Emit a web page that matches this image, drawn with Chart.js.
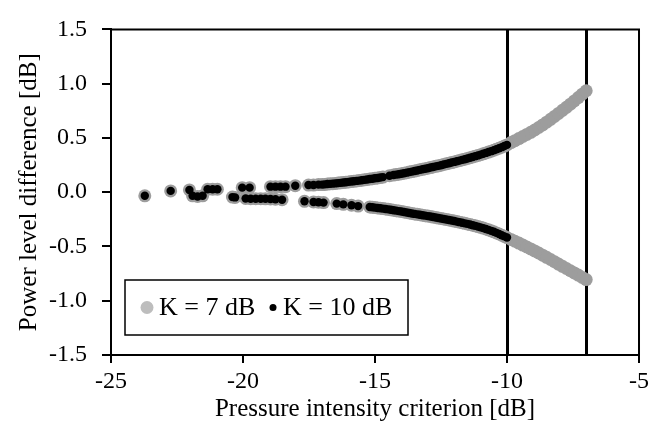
<!DOCTYPE html>
<html>
<head>
<meta charset="utf-8">
<script src="https://cdn.jsdelivr.net/npm/chart.js@4.4.1/dist/chart.umd.min.js"></script>
<style>
  html, body { margin: 0; padding: 0; background: #fff; }
  #wrap { width: 653px; height: 433px; }
</style>
</head>
<body>
<div id="wrap"><canvas id="c" width="653" height="433"></canvas></div>
<script>
// Axis ticks
const xTicks = [-25, -20, -15, -10, -5];
const yTicks = [-1.5, -1.0, -0.5, 0.0, 0.5, 1.0, 1.5];
// Vertical reference lines (criterion limits, dB)
const limitLines = [-10, -7];

// Upper branch, points common to both K values
const upperX = [-22.74, -22.03, -21.34, -21.15, -20.97, -20.03, -19.75, -18.96, -18.77, -18.58,
  -18.39, -18.02, -17.52, -17.33, -17.14, -17.0, -16.9, -16.8, -16.7, -16.6, -16.5, -16.4,
  -16.3, -16.2, -16.1, -16.0, -15.9, -15.8, -15.7, -15.6, -15.5, -15.4, -15.3, -15.2, -15.1,
  -15.0, -14.9, -14.8, -14.7, -14.45, -14.3, -14.2, -14.1, -14.0, -13.9, -13.8, -13.7, -13.6,
  -13.5, -13.4, -13.3, -13.2, -13.1, -13.0, -12.9, -12.8, -12.7, -12.6, -12.5, -12.4, -12.3,
  -12.2, -12.1, -12.0, -11.9, -11.8, -11.7, -11.6, -11.5, -11.4, -11.3, -11.2, -11.1, -11.0,
  -10.9, -10.8, -10.7, -10.6, -10.5, -10.4, -10.3, -10.2, -10.1, -10.0];
const upperY = [0.012, 0.021, 0.027, 0.027, 0.027, 0.042, 0.042, 0.051, 0.051, 0.051,
  0.051, 0.060, 0.066, 0.066, 0.070, 0.070, 0.072, 0.075, 0.077, 0.079, 0.081, 0.084,
  0.086, 0.089, 0.092, 0.095, 0.098, 0.101, 0.104, 0.107, 0.110, 0.114, 0.117, 0.121, 0.124,
  0.128, 0.131, 0.135, 0.139, 0.152, 0.158, 0.162, 0.166, 0.170, 0.175, 0.180, 0.185, 0.190,
  0.195, 0.200, 0.206, 0.211, 0.216, 0.221, 0.227, 0.232, 0.238, 0.243, 0.249, 0.255, 0.261,
  0.267, 0.273, 0.279, 0.285, 0.291, 0.298, 0.304, 0.311, 0.318, 0.325, 0.332, 0.339, 0.346,
  0.354, 0.362, 0.370, 0.378, 0.387, 0.396, 0.405, 0.415, 0.425, 0.436];

// Lower branch, points common to both K values
const lowerX = [-23.72, -21.91, -21.72, -21.53, -20.40, -20.30, -19.90, -19.71, -19.52, -19.33,
  -19.15, -18.96, -18.77, -18.52, -17.67, -17.33, -17.14, -16.95, -16.45, -16.20, -15.89,
  -15.64, -15.2, -15.1, -15.0, -14.9, -14.8, -14.7, -14.6, -14.5, -14.4, -14.3, -14.2, -14.1,
  -14.0, -13.9, -13.8, -13.7, -13.6, -13.5, -13.4, -13.3, -13.2, -13.1, -13.0, -12.9, -12.8,
  -12.7, -12.6, -12.5, -12.4, -12.3, -12.2, -12.1, -12.0, -11.9, -11.8, -11.7, -11.6, -11.5,
  -11.4, -11.3, -11.2, -11.1, -11.0, -10.9, -10.8, -10.7, -10.6, -10.5, -10.4, -10.3, -10.2,
  -10.1, -10.0];
const lowerY = [-0.033, -0.033, -0.039, -0.033, -0.045, -0.048, -0.058, -0.060, -0.060, -0.060,
  -0.061, -0.062, -0.065, -0.069, -0.084, -0.090, -0.092, -0.096, -0.105, -0.112, -0.120,
  -0.128, -0.136, -0.139, -0.142, -0.145, -0.148, -0.151, -0.155, -0.158, -0.162, -0.166,
  -0.170, -0.174, -0.178, -0.182, -0.187, -0.191, -0.196, -0.200, -0.204, -0.208, -0.212,
  -0.216, -0.220, -0.224, -0.229, -0.233, -0.238, -0.242, -0.247, -0.251, -0.256, -0.261,
  -0.266, -0.271, -0.276, -0.281, -0.287, -0.292, -0.298, -0.304, -0.310, -0.317, -0.324,
  -0.331, -0.339, -0.347, -0.356, -0.365, -0.375, -0.385, -0.396, -0.407, -0.418];

// K = 7 dB only: continuation beyond -10 dB
const k7ExtraX = [-9.85, -9.7, -9.55, -9.4, -9.25, -9.1, -8.95, -8.8, -8.65, -8.5, -8.35, -8.2,
  -8.05, -7.9, -7.75, -7.6, -7.45, -7.3, -7.15, -7.0];
const k7ExtraUpperY = [0.457, 0.475, 0.494, 0.513, 0.532, 0.552, 0.573, 0.596, 0.620, 0.645,
  0.671, 0.698, 0.726, 0.754, 0.782, 0.811, 0.841, 0.872, 0.903, 0.935];
const k7ExtraLowerY = [-0.435, -0.452, -0.469, -0.487, -0.505, -0.523, -0.541, -0.560, -0.580,
  -0.600, -0.620, -0.641, -0.662, -0.683, -0.703, -0.724, -0.744, -0.764, -0.785, -0.805];

const zip = (xs, ys) => xs.map((x, i) => ({ x: x, y: ys[i] }));

const k10Points = zip(upperX, upperY).concat(zip(lowerX, lowerY));
const k7Points = k10Points
  .concat(zip(k7ExtraX, k7ExtraUpperY))
  .concat(zip(k7ExtraX, k7ExtraLowerY));

const FONT_FAMILY = '"Liberation Serif", "Times New Roman", Times, serif';
const tickFont = { family: FONT_FAMILY, size: 24 };
const titleFont = { family: FONT_FAMILY, size: 25 };
const GRAY = '#9d9d9d';
const GRAY_KEY = '#bdbdbd';

// Frame, limit lines and the in-plot legend
const framePlugin = {
  id: 'frame',
  beforeDatasetsDraw(chart) {
    const { ctx, chartArea: a, scales: { x } } = chart;
    ctx.save();
    ctx.strokeStyle = '#000';
    ctx.lineWidth = 3;
    limitLines.forEach(v => {
      const px = Math.round(x.getPixelForValue(v)) + 0.5;
      ctx.beginPath();
      ctx.moveTo(px, a.top);
      ctx.lineTo(px, a.bottom);
      ctx.stroke();
    });
    ctx.lineWidth = 2;
    ctx.beginPath();
    ctx.moveTo(a.left, a.top);
    ctx.lineTo(a.right, a.top);
    ctx.lineTo(a.right, a.bottom);
    ctx.stroke();
    ctx.restore();
  },
  afterDatasetsDraw(chart) {
    const { ctx, chartArea: a } = chart;
    const k7 = chart.data.datasets[1];
    const k10 = chart.data.datasets[0];
    const bx = a.left + 14, by = a.bottom - 75, bw = 283, bh = 55;
    ctx.save();
    ctx.fillStyle = '#fff';
    ctx.fillRect(bx, by, bw, bh);
    ctx.strokeStyle = '#000';
    ctx.lineWidth = 1.5;
    ctx.strokeRect(bx, by, bw, bh);
    const cy = by + bh / 2;
    ctx.fillStyle = GRAY_KEY;
    ctx.beginPath();
    ctx.arc(bx + 22, cy, 6.5, 0, Math.PI * 2);
    ctx.fill();
    ctx.fillStyle = '#000';
    ctx.beginPath();
    ctx.arc(bx + 148, cy, 3.5, 0, Math.PI * 2);
    ctx.fill();
    ctx.font = '26px ' + FONT_FAMILY;
    ctx.textBaseline = 'middle';
    ctx.textAlign = 'left';
    ctx.fillText(k7.label, bx + 34, cy + 1);
    ctx.fillText(k10.label, bx + 158, cy + 1);
    ctx.restore();
  }
};

new Chart(document.getElementById('c'), {
  type: 'scatter',
  data: {
    datasets: [
      { label: 'K = 10 dB', data: k10Points, backgroundColor: '#000', borderWidth: 0,
        pointRadius: 4.2, pointHoverRadius: 4.2, order: 0 },
      { label: 'K = 7 dB', data: k7Points, backgroundColor: GRAY, borderWidth: 0,
        pointRadius: 6.5, pointHoverRadius: 6.5, order: 1 }
    ]
  },
  options: {
    responsive: false,
    animation: false,
    devicePixelRatio: 1,
    events: [],
    layout: { padding: { top: 22, right: 10, left: 0, bottom: 0 } },
    plugins: { legend: { display: false }, tooltip: { enabled: false } },
    scales: {
      x: {
        type: 'linear', min: -25, max: -5,
        afterBuildTicks: s => { s.ticks = xTicks.map(v => ({ value: v })); },
        afterFit: s => { s.height = 78; },
        ticks: { font: tickFont, color: '#000', padding: 4, maxRotation: 0, autoSkip: false,
          callback: v => String(v) },
        grid: { drawOnChartArea: false, drawTicks: true, tickLength: 8, color: '#000', lineWidth: 2 },
        border: { color: '#000', width: 2 },
        title: { display: true, text: 'Pressure intensity criterion [dB]', font: titleFont,
          color: '#000', padding: { top: 0, bottom: 9 } }
      },
      y: {
        type: 'linear', min: -1.5, max: 1.5,
        afterBuildTicks: s => { s.ticks = yTicks.map(v => ({ value: v })); },
        afterFit: s => { s.width = 111; },
        ticks: { font: tickFont, color: '#000', padding: 15, autoSkip: false,
          callback: v => v.toFixed(1) },
        grid: { drawOnChartArea: false, drawTicks: true, tickLength: 9, color: '#000', lineWidth: 2 },
        border: { color: '#000', width: 2 },
        title: { display: true, text: 'Power level difference [dB]', font: titleFont,
          color: '#000', padding: { top: 14, bottom: 0 } }
      }
    }
  },
  plugins: [framePlugin]
});
</script>
</body>
</html>
